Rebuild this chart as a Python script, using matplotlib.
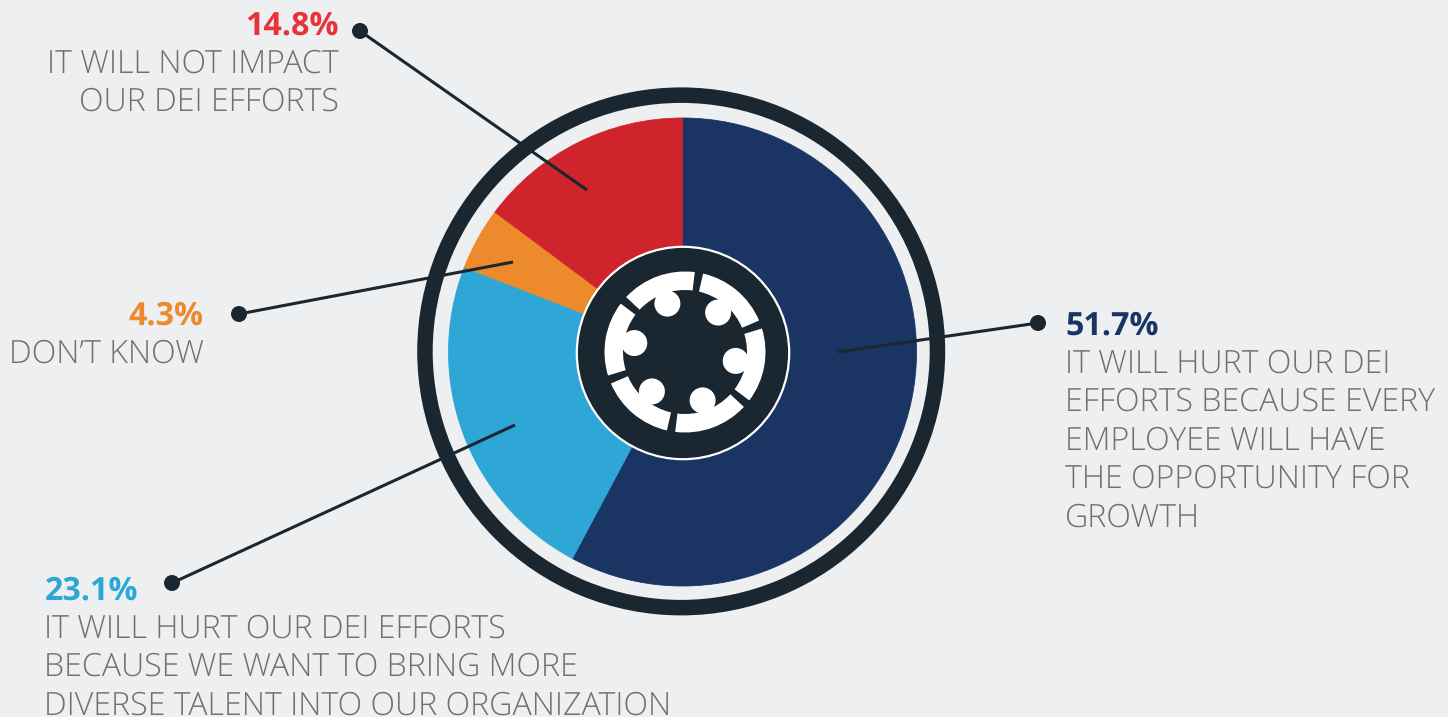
"""
Donut chart of survey answers on how a change will affect DEI efforts.
"""
import numpy as np
import matplotlib
matplotlib.use('Agg')
import matplotlib.pyplot as plt
from matplotlib.patches import Circle, Wedge

# Survey values, in percent
answers = ['hurt_growth', 'hurt_talent', 'dont_know', 'no_impact']
values = [51.7, 23.1, 4.3, 14.8]
colors = ['#1a3564', '#2ea7d7', '#ec8a2c', '#cf242b']

# The published shares stop short of 100, the rest stays in the first colour
remainder = 100 - sum(values)

pct_labels = ['51.7%', '23.1%', '4.3%', '14.8%']
pct_colors = ['#1a3564', '#2ea7d7', '#ec8a2c', '#e8333a']
answer_labels = [
    ['IT WILL HURT OUR DEI', 'EFFORTS BECAUSE EVERY', 'EMPLOYEE WILL HAVE',
     'THE OPPORTUNITY FOR', 'GROWTH'],
    ['IT WILL HURT OUR DEI EFFORTS', 'BECAUSE WE WANT TO BRING MORE',
     'DIVERSE TALENT INTO OUR ORGANIZATION'],
    ['DON\u2019T KNOW'],
    ['IT WILL NOT IMPACT', 'OUR DEI EFFORTS'],
]

# Canvas size in pixels, everything below is placed in these units
W, H = 1448, 717
bg = '#eeeff1'
dark = '#1a2630'
text_gray = '#707070'
cx, cy = 683, H - 353
icon_x, icon_y = 685, H - 352

# Label block: x, baseline of the percent line, alignment
label_pos = [(1065, 335, 'left'), (44.5, 600, 'left'), (203.5, 325, 'right'), (338.5, 35, 'right')]
line_height = 38.5

# Leader lines: dot end, then end inside the wedge
leaders = [((1038, 323), (838, 352)), ((172, 583), (515, 425)),
           ((239, 314), (513, 262)), ((360, 31), (587, 190))]

plt.rcParams['font.family'] = ['Open Sans', 'DejaVu Sans']
plt.rcParams['text.hinting'] = 'none'

fig = plt.figure(figsize=(W / 100, H / 100), dpi=100, facecolor=bg)
ax = fig.add_axes([0, 0, 1, 1])

sizes = [values[0], remainder] + values[1:]
slice_colors = [colors[0], colors[0]] + colors[1:]
wedges, _ = ax.pie(sizes, colors=slice_colors, startangle=90, counterclock=False,
                   radius=234, center=(682.5, H - 352), wedgeprops={'linewidth': 0})

# Thin own-colour edges close the hairline seams between slices
for w, c in zip(wedges, slice_colors):
    w.set_edgecolor(c)
    w.set_linewidth(0.6)

ax.set_xlim(0, W)
ax.set_ylim(0, H)
ax.set_aspect('equal')
ax.axis('off')

# Outer ring
ax.add_patch(Wedge((681.2, H - 351.4), 264, 0, 360, width=15.5, fc=dark, ec='none', zorder=3))

# Center disc
ax.add_patch(Circle((cx, cy), 106.2, fc=dark, ec='white', lw=1.6, zorder=4))

# People-around-a-table icon, six seats
for k in range(6):
    head = -20 + 60 * k
    ax.add_patch(Wedge((icon_x, icon_y), 80.5, 90 - (head + 27), 90 - (head - 27),
                       width=18.5, fc='white', ec='none', zorder=5))
    a = np.radians(90 - head)
    ax.add_patch(Circle((icon_x + 51.5 * np.cos(a), icon_y + 51.5 * np.sin(a)), 13,
                        fc='white', ec='none', zorder=5))

# Leader lines and their dots
for (p0, p1) in leaders:
    ax.plot([p0[0], p1[0]], [H - p0[1], H - p1[1]], color=dark, lw=2.2,
            solid_capstyle='butt', zorder=6)
    ax.add_patch(Circle((p0[0], H - p0[1]), 8, fc=dark, ec='none', zorder=6))

# Percent and answer text
for i in range(len(values)):
    x, y, ha = label_pos[i]
    ax.text(x, H - y, pct_labels[i], color=pct_colors[i], fontsize=23.2,
            fontweight='bold', ha=ha, va='baseline')
    for j, line in enumerate(answer_labels[i]):
        ax.text(x, H - (y + 37.5 + j * line_height), line, color=text_gray,
                fontsize=23.15, fontweight='light', ha=ha, va='baseline')

fig.savefig('out.png', dpi=100, facecolor=bg)
